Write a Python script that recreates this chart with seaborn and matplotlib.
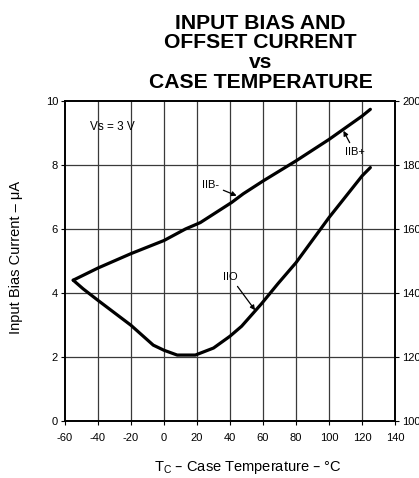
import matplotlib
matplotlib.use("Agg")
import matplotlib.pyplot as plt
import seaborn as sns
import pandas as pd

# Input bias current (upper curve) vs case temperature
iib_temp = [-55, -40, -20, 0, 13, 22, 41, 48, 60, 80, 100, 120, 125]
iib_ua = [4.40, 4.78, 5.23, 5.64, 6.00, 6.20, 6.83, 7.10, 7.50, 8.13, 8.80, 9.53, 9.74]

# Input offset current (lower curve) vs case temperature
iio_temp = [-55, -49, -40, -20, -6.5, 0, 8, 19, 30, 40, 47, 59, 69, 80, 100, 120, 125]
iio_ua = [4.40, 4.13, 3.77, 2.99, 2.37, 2.21, 2.06, 2.06, 2.28, 2.65, 2.96, 3.66, 4.29, 4.95, 6.36, 7.66, 7.92]

x_ticks = [-60, -40, -20, 0, 20, 40, 60, 80, 100, 120, 140]
y_ticks = [0, 2, 4, 6, 8, 10]
right_ticks = [100, 120, 140, 160, 180, 200]

df = pd.concat([
    pd.DataFrame({"temp": iib_temp, "current": iib_ua, "curve": "IIB"}),
    pd.DataFrame({"temp": iio_temp, "current": iio_ua, "curve": "IIO"}),
])

sns.set_theme(style="white")
plt.rcParams["font.family"] = ["Liberation Sans", "DejaVu Sans"]
for key in ("text.color", "axes.labelcolor", "xtick.color", "ytick.color"):
    plt.rcParams[key] = "black"

fig = plt.figure(figsize=(4.19, 4.78), dpi=100)
ax = fig.add_axes([0.155, 0.1193, 0.788, 0.6694])

grid_col = "#3a3a3a"
for t in x_ticks[1:-1]:
    ax.axvline(t, color=grid_col, lw=0.9, zorder=1)
for t in y_ticks[1:-1]:
    ax.axhline(t, color=grid_col, lw=0.9, zorder=1)

sns.lineplot(data=df, x="temp", y="current", units="curve", estimator=None,
             sort=False, color="black", lw=2.3, legend=False, ax=ax, zorder=3)

ax.set_xlim(-60, 140)
ax.set_ylim(0, 10)
ax.set_xticks(x_ticks)
ax.set_xticklabels([str(v) for v in x_ticks], fontsize=8)
ax.set_yticks(y_ticks)
ax.set_yticklabels([str(v) for v in y_ticks], fontsize=8)
ax.tick_params(axis="both", direction="out", length=3, width=0.8, color="black",
               pad=2, bottom=True, left=True)
ax.tick_params(axis="x", pad=6)
for s in ax.spines.values():
    s.set_color("black")
    s.set_linewidth(1.4)

# Secondary scale on the right (offset current)
ax2 = ax.twinx()
ax2.set_ylim(100, 200)
ax2.set_yticks(right_ticks)
ax2.set_yticklabels([str(v) for v in right_ticks], fontsize=8)
ax2.tick_params(axis="y", direction="out", length=3, width=0.8, color="black",
                pad=2, right=True)
for s in ax2.spines.values():
    s.set_visible(False)

ax.set_xlabel("T$_\\mathregular{C}$ – Case Temperature – °C", fontsize=10.5)
ax.xaxis.set_label_coords(0.555, -0.118)
ax.set_ylabel("Input Bias Current – μA", fontsize=10.5)
ax.yaxis.set_label_coords(-0.128, 0.5125)

ax.text(-45, 9.2, "Vs = 3 V", fontsize=8.5, ha="left", va="center")

arrow = dict(arrowstyle="-|>", color="black", lw=0.9, mutation_scale=7,
             shrinkA=1, shrinkB=0)
ax.annotate("IIB-", xy=(44, 7.04), xytext=(28, 7.38), fontsize=8,
            ha="center", va="center", arrowprops=arrow)
ax.annotate("IIB+", xy=(108.7, 9.07), xytext=(115.5, 8.4), fontsize=8,
            ha="center", va="center", arrowprops=arrow)
ax.annotate("IIO", xy=(55.2, 3.46), xytext=(40.3, 4.5), fontsize=8,
            ha="center", va="center", arrowprops=arrow)

fig.text(0.622, 1 - 88 / 478, "INPUT BIAS AND\nOFFSET CURRENT\nvs\nCASE TEMPERATURE",
         fontsize=15.2, fontweight="bold", ha="center", va="baseline",
         linespacing=1.05)

fig.savefig("out.png", dpi=100, facecolor="white")
